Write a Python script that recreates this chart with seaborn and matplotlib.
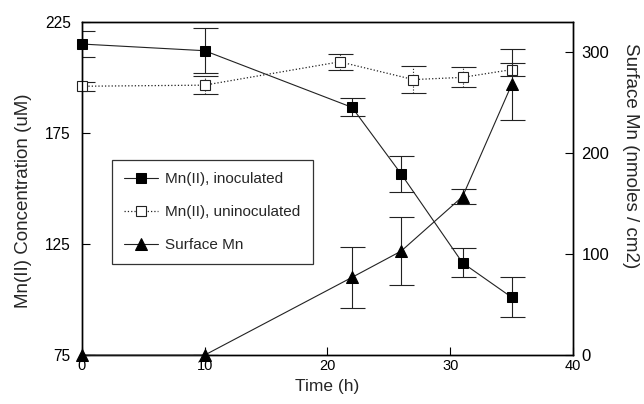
import numpy as np
import pandas as pd
import matplotlib
matplotlib.use("Agg")
import matplotlib.pyplot as plt
import seaborn as sns

sns.set_style("ticks")
plt.rcParams['font.family'] = ['Liberation Sans', 'DejaVu Sans']

# Mn(II), inoculated (left axis)
inoc_t = [0, 10, 22, 26, 31, 35]
inoc_mn = [215, 212, 186.5, 156.5, 116.5, 101]
inoc_err = [6, 10, 4, 8, 6.5, 9]

# Mn(II), uninoculated (left axis)
unin_t = [0, 10, 21, 27, 31, 35]
unin_mn = [196, 196.5, 207, 199, 200, 203.5]
unin_err = [2, 4, 3.5, 6, 4.5, 3]

# Surface Mn (right axis)
surf_t = [0, 10, 22, 26, 31, 35]
surf_mn = [0, 0, 77, 103, 157, 268]
surf_err = [0, 0, 30, 34, 7, 35]

df_inoc = pd.DataFrame({"t": inoc_t, "v": inoc_mn})
df_unin = pd.DataFrame({"t": unin_t, "v": unin_mn})
df_surf = pd.DataFrame({"t": surf_t, "v": surf_mn})

fig = plt.figure(figsize=(6.44, 4.04), dpi=100)
ax = fig.add_axes([0.127, 0.121, 0.763, 0.825])
ax2 = ax.twinx()

ink = '#222222'

# uninoculated: dotted line, open squares, dotted error bars
eb = ax.errorbar(unin_t, unin_mn, yerr=unin_err, fmt='none', ecolor=ink,
                 elinewidth=0.8, capsize=9, capthick=0.8, zorder=2)
eb.lines[2][0].set_linestyle(':')
sns.lineplot(data=df_unin, x="t", y="v", ax=ax, color=ink, linewidth=0.9,
             linestyle=':', marker='s', markersize=7, markerfacecolor='white',
             markeredgecolor=ink, markeredgewidth=0.8, clip_on=False,
             label='Mn(II), uninoculated', legend=False, zorder=3)

# inoculated: solid line, filled squares
ax.errorbar(inoc_t, inoc_mn, yerr=inoc_err, fmt='none', ecolor=ink,
            elinewidth=0.8, capsize=9, capthick=0.8, zorder=2)
sns.lineplot(data=df_inoc, x="t", y="v", ax=ax, color=ink, linewidth=0.8,
             marker='s', markersize=7.5, markerfacecolor='black',
             markeredgecolor='black', clip_on=False,
             label='Mn(II), inoculated', legend=False, zorder=4)

# surface Mn on right axis
ax2.errorbar(surf_t, surf_mn, yerr=surf_err, fmt='none', ecolor=ink,
             elinewidth=0.8, capsize=9, capthick=0.8, zorder=2)
sns.lineplot(data=df_surf, x="t", y="v", ax=ax2, color=ink, linewidth=0.8,
             marker='^', markersize=9, markerfacecolor='black',
             markeredgecolor='black', clip_on=False,
             label='Surface Mn', legend=False, zorder=4)

ax.set_xlim(0, 40)
ax.set_ylim(75, 225)
ax2.set_ylim(0, 330)
ax.set_xticks([0, 10, 20, 30, 40])
ax.set_yticks([75, 125, 175, 225])
ax2.set_yticks([0, 100, 200, 300])

ax.set_xlabel("Time (h)", fontsize=12.5, labelpad=4)
ax.set_ylabel("Mn(II) Concentration (uM)", fontsize=13.5, labelpad=9)
ax2.set_ylabel("Surface Mn (nmoles / cm2)", fontsize=13.5, rotation=270,
               labelpad=21)
ax.yaxis.label.set_y(0.462)
ax2.yaxis.label.set_y(0.6)

for a in (ax, ax2):
    a.tick_params(direction='in', length=6, width=0.8, colors='black')
    for s in a.spines.values():
        s.set_linewidth(1.0)
        s.set_color('black')
ax.tick_params(axis='x', labelsize=10.5, pad=3)
ax.tick_params(axis='y', labelsize=11.2, pad=8)
ax2.tick_params(axis='y', labelsize=12, pad=6)

h1, l1 = ax.get_legend_handles_labels()
h2, l2 = ax2.get_legend_handles_labels()
order = {'Mn(II), inoculated': 0, 'Mn(II), uninoculated': 1, 'Surface Mn': 2}
pairs = sorted(zip(h1 + h2, l1 + l2), key=lambda p: order[p[1]])
leg = ax2.legend([p[0] for p in pairs], [p[1] for p in pairs],
                 loc='upper left', bbox_to_anchor=(0.061, 0.586),
                 borderaxespad=0, fontsize=11, frameon=True, fancybox=False,
                 edgecolor='black', handlelength=2.2, handletextpad=0.5,
                 labelspacing=1.25, borderpad=0.8)
leg.get_frame().set_linewidth(0.9)

fig.savefig("out.png", dpi=100)
